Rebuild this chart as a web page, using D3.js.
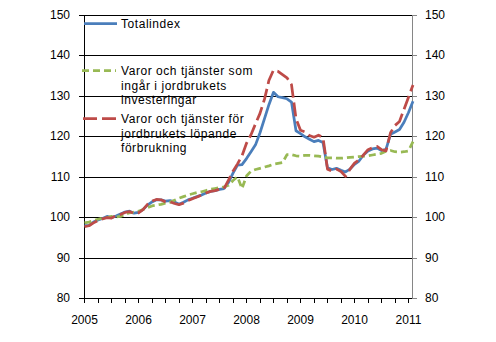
<!DOCTYPE html>
<html>
<head>
<meta charset="utf-8">
<script src="https://cdn.jsdelivr.net/npm/d3@7"></script>
<style>
  html, body { margin: 0; padding: 0; background: #fff; }
  svg { display: block; font-family: "Liberation Sans", Arial, sans-serif; }
</style>
</head>
<body>
<svg id="chart" width="496" height="342"></svg>
<script>
// Monthly index, 2005 = 100 basis, January 2005 – February 2011
const months = d3.timeMonths(new Date(2005, 0, 1), new Date(2011, 2, 1));

const totalindex = [
  98.0, 98.1, 98.9, 99.4, 99.8, 100.3, 100.0, 100.4, 100.9, 101.4, 101.6, 101.1,
  101.3, 102.0, 103.1, 103.9, 104.4, 104.4, 104.1, 104.2, 103.9, 103.3, 103.8, 104.4,
  104.8, 105.2, 105.6, 106.1, 106.5, 106.7, 107.0, 107.2, 108.7, 111.0, 113.0, 113.1,
  114.6, 116.3, 118.0, 121.0, 124.5, 128.0, 131.0, 129.9, 129.7, 129.4, 128.6, 121.5,
  120.8, 120.0, 119.4, 118.8, 119.1, 118.6, 112.3, 111.9, 112.2, 111.7, 111.3, 112.0,
  113.2, 114.0, 115.5, 116.5, 117.0, 117.2, 116.6, 116.9, 120.6, 121.2, 121.8, 123.6,
  126.0, 128.8
];

const investeringar = [
  98.7, 98.9, 99.3, 99.6, 99.9, 100.0, 100.3, 100.2, 100.3, 100.8, 101.2, 101.4,
  101.6, 102.0, 102.5, 102.9, 103.1, 103.3, 103.6, 103.8, 104.3, 104.8, 105.2, 105.6,
  105.9, 106.2, 106.4, 106.7, 107.0, 107.2, 107.4, 107.6, 108.0, 109.2, 110.1, 107.2,
  110.3, 111.5, 111.9, 112.2, 112.5, 112.8, 113.2, 113.4, 113.6, 115.6, 115.6, 115.3,
  115.2, 115.4, 115.4, 115.3, 115.2, 115.0, 114.8, 114.8, 114.7, 114.7, 114.8, 114.9,
  115.0, 115.1, 115.2, 115.3, 115.5, 115.7, 115.9, 116.4, 116.6, 116.3, 116.2, 116.3,
  116.5, 118.8
];

const lopande = [
  97.8, 98.0, 98.7, 99.3, 99.7, 100.0, 99.9, 100.5, 100.8, 101.3, 101.5, 101.0,
  101.2, 102.0, 103.3, 104.1, 104.5, 104.4, 103.9, 103.9, 103.5, 103.2, 103.6, 104.2,
  104.7, 105.1, 105.6, 106.1, 106.5, 106.7, 107.0, 107.2, 109.3, 111.5, 113.3, 115.3,
  118.4, 120.5, 123.2, 125.8, 129.3, 134.0, 136.5, 136.2, 135.4, 134.6, 132.9, 124.5,
  121.6, 121.2, 120.3, 119.9, 120.4, 119.8, 112.0, 111.5, 112.0, 111.4, 110.2, 112.0,
  113.5, 114.3, 115.5, 116.8, 117.3, 117.6, 116.8, 116.5, 121.0, 122.8, 123.8, 126.8,
  129.8, 132.8
];

const yTicks = [80, 90, 100, 110, 120, 130, 140, 150];

const seriesNames = [
  ["Totalindex"],
  ["Varor och tjänster som", "ingår i jordbrukets", "investeringar"],
  ["Varor och tjänster för", "jordbrukets löpande", "förbrukning"]
];

const colors = { total: "#4a7ebb", inv: "#98b954", lop: "#be4b48" };

const svg = d3.select("#chart");
const plotLeft = 84, plotRight = 412, plotTop = 15, plotBottom = 298;
const FONT = '"Liberation Sans", Arial, sans-serif';

// Scales: month index along x, index value along y
const x = d3.scaleLinear().domain([0, months.length - 1]).range([plotLeft + 0.5, 413]);
const xAxisScale = d3.scaleLinear().domain([0, months.length - 1]).rangeRound([plotLeft, 412.5]);
const y = d3.scaleLinear().domain([80, 150]).range([plotBottom + 0.5, plotTop + 0.5]);
const yAxisScale = d3.scaleLinear().domain([80, 150]).rangeRound([plotBottom, plotTop]);

// Horizontal gridlines
svg.append("g")
  .attr("transform", `translate(${plotLeft},0)`)
  .call(d3.axisLeft(yAxisScale).tickValues(yTicks).tickSize(-(plotRight - plotLeft)).tickFormat(""))
  .call(g => g.select(".domain").remove())
  .call(g => g.selectAll(".tick line").attr("stroke", "#000"));

// Left axis
svg.append("g")
  .attr("transform", `translate(${plotLeft},0)`)
  .call(d3.axisLeft(yAxisScale).tickValues(yTicks).tickSize(5).tickSizeOuter(0).tickPadding(9))
  .call(g => g.selectAll("path, line").attr("stroke", "#000"))
  .call(g => g.selectAll("text").attr("font-size", 12).attr("fill", "#000").attr("font-family", FONT));

// Right axis
svg.append("g")
  .attr("transform", `translate(${plotRight},0)`)
  .call(d3.axisRight(yAxisScale).tickValues(yTicks).tickSize(5).tickSizeOuter(0).tickPadding(8))
  .call(g => g.selectAll("path, line").attr("stroke", "#868686"))
  .call(g => g.selectAll("text").attr("font-size", 12).attr("fill", "#000").attr("font-family", FONT));

// Bottom axis: quarterly ticks, year labels
svg.append("g")
  .attr("transform", `translate(0,${plotBottom})`)
  .call(d3.axisBottom(xAxisScale)
    .tickValues(d3.range(0, months.length, 3))
    .tickSize(5)
    .tickPadding(12)
    .tickFormat(i => i % 12 === 0 ? String(months[i].getFullYear()) : ""))
  .call(g => g.select(".domain").remove())
  .call(g => g.selectAll("line").attr("stroke", "#000"))
  .call(g => g.selectAll("text").attr("font-size", 12).attr("fill", "#000").attr("font-family", FONT));

// Series lines
const line = d3.line().x((d, i) => x(i)).y(d => y(d));

svg.append("path").datum(totalindex)
  .attr("d", line).attr("fill", "none")
  .attr("stroke", colors.total).attr("stroke-width", 2.75)
  .attr("stroke-linejoin", "round");

svg.append("path").datum(investeringar)
  .attr("d", line).attr("fill", "none")
  .attr("stroke", colors.inv).attr("stroke-width", 2.75)
  .attr("stroke-dasharray", "7,4")
  .attr("stroke-linejoin", "round");

svg.append("path").datum(lopande)
  .attr("d", line).attr("fill", "none")
  .attr("stroke", colors.lop).attr("stroke-width", 2.75)
  .attr("stroke-dasharray", "14,5")
  .attr("stroke-linejoin", "round");

// Legend
const legend = svg.append("g");
const legendItems = [
  { lines: seriesNames[0], color: colors.total, dash: null, y: 23.5, x1: 84, x2: 117 },
  { lines: seriesNames[1], color: colors.inv, dash: "7,4", y: 70.5, x1: 82, x2: 116 },
  { lines: seriesNames[2], color: colors.lop, dash: "14,5", y: 118.5, x1: 83, x2: 117 }
];
legendItems.forEach(item => {
  legend.append("line")
    .attr("x1", item.x1).attr("x2", item.x2)
    .attr("y1", item.y).attr("y2", item.y)
    .attr("stroke", item.color).attr("stroke-width", 2.75)
    .attr("stroke-dasharray", item.dash);
  const t = legend.append("text")
    .attr("x", 121).attr("y", item.y + 4.3)
    .attr("font-size", 12).attr("letter-spacing", 0.55).attr("fill", "#000");
  item.lines.forEach((s, k) => {
    t.append("tspan").attr("x", 121).attr("dy", k === 0 ? 0 : 14.8).text(s);
  });
});
</script>
</body>
</html>
